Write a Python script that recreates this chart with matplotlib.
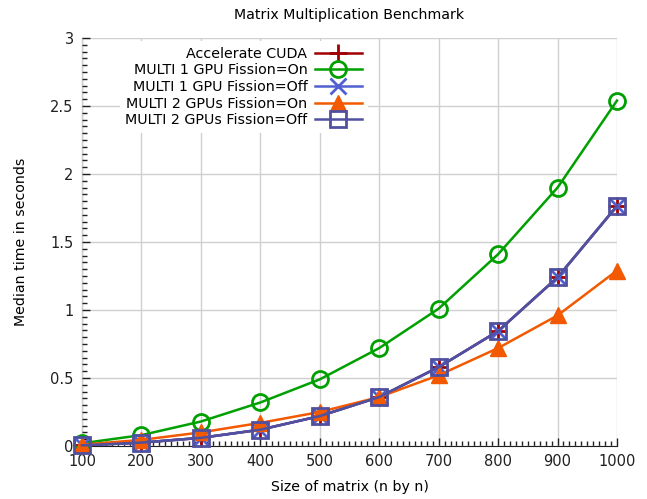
import numpy as np
import matplotlib.pyplot as plt
from matplotlib.ticker import MultipleLocator

sizes = [100, 200, 300, 400, 500, 600, 700, 800, 900, 1000]
accel_cuda = [0.005, 0.025, 0.06, 0.12, 0.22, 0.36, 0.58, 0.845, 1.24, 1.765]
multi1_on = [0.02, 0.08, 0.18, 0.32, 0.49, 0.72, 1.01, 1.41, 1.90, 2.54]
multi1_off = [0.005, 0.025, 0.06, 0.12, 0.22, 0.36, 0.58, 0.845, 1.24, 1.765]
multi2_on = [0.01, 0.045, 0.10, 0.17, 0.25, 0.36, 0.52, 0.72, 0.96, 1.29]
multi2_off = [0.005, 0.025, 0.06, 0.12, 0.22, 0.36, 0.58, 0.845, 1.24, 1.765]

fig = plt.figure(figsize=(6.47, 4.99), dpi=100)
ax = fig.add_axes([0.1267, 0.1062, 0.8269, 0.8176])

lw = 1.8
ax.plot(sizes, accel_cuda, color="#a00000", lw=lw, marker="+", ms=13, mew=2,
        label="Accelerate CUDA", clip_on=False, zorder=3)
ax.plot(sizes, multi1_on, color="#00a000", lw=lw, marker="o", ms=11.5, mew=2,
        mfc="none", label="MULTI 1 GPU Fission=On", clip_on=False, zorder=3)
ax.plot(sizes, multi1_off, color="#5060d0", lw=lw, marker="x", ms=11, mew=2,
        label="MULTI 1 GPU Fission=Off", clip_on=False, zorder=3)
ax.plot(sizes, multi2_on, color="#f25900", lw=lw, marker="^", ms=12,
        label="MULTI 2 GPUs Fission=On", clip_on=False, zorder=3)
ax.plot(sizes, multi2_off, color="#5050a0", lw=lw, marker="s", ms=11, mew=2,
        mfc="none", label="MULTI 2 GPUs Fission=Off", clip_on=False, zorder=3)

ax.set_xlim(100, 1000)
ax.set_ylim(0, 3)
ax.set_xticks(sizes)
ax.set_yticks([0, 0.5, 1, 1.5, 2, 2.5, 3])
ax.set_yticklabels(["0", "0.5", "1", "1.5", "2", "2.5", "3"])
ax.xaxis.set_minor_locator(MultipleLocator(10))
ax.yaxis.set_minor_locator(MultipleLocator(0.05))
ax.tick_params(which="major", length=6, width=1, direction="in", labelsize=10.5,
               color="#202020", labelcolor="#202020", top=False, right=False, pad=6)
ax.tick_params(which="minor", length=3.5, width=1, direction="in", color="#202020",
               top=False, right=False)
ax.grid(True, which="major", color="#d0d0d0", lw=1)
ax.set_axisbelow(False)
for line in ax.get_xgridlines() + ax.get_ygridlines():
    line.set_zorder(0.5)
for s in ["top", "right"]:
    ax.spines[s].set_visible(False)
ax.spines["left"].set_color("#202020")
ax.spines["bottom"].set_color("#202020")

ax.set_title("Matrix Multiplication Benchmark", fontsize=10.2, pad=14)
ax.set_xlabel("Size of matrix (n by n)", fontsize=10.2, labelpad=8)
ax.set_ylabel("Median time in seconds", fontsize=10.2, labelpad=16)

leg = ax.legend(loc="upper left", bbox_to_anchor=(0.065, 1.0), markerfirst=False,
                frameon=True, fontsize=10.3, handlelength=3.3, handletextpad=0.5,
                labelspacing=0.19, borderaxespad=0.2, fancybox=False, edgecolor="none")
leg.get_frame().set_facecolor("white")
leg.get_frame().set_alpha(1)

fig.savefig("out.png", dpi=100)
